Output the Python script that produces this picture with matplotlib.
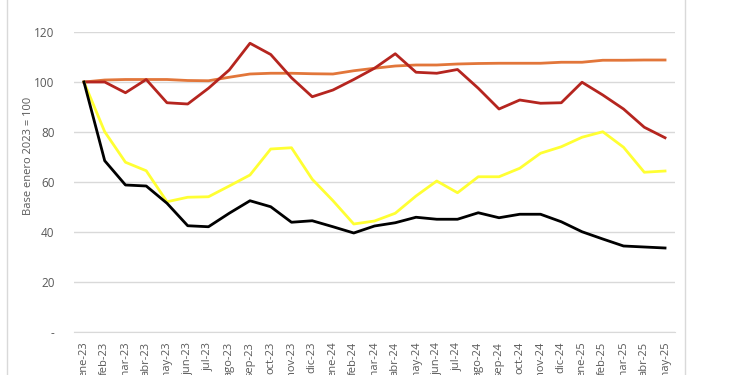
import matplotlib
matplotlib.use("Agg")
import matplotlib.pyplot as plt
from matplotlib.lines import Line2D

months = ["ene-23", "feb-23", "mar-23", "abr-23", "may-23", "jun-23", "jul-23", "ago-23",
          "sep-23", "oct-23", "nov-23", "dic-23", "ene-24", "feb-24", "mar-24", "abr-24",
          "may-24", "jun-24", "jul-24", "ago-24", "sep-24", "oct-24", "nov-24", "dic-24",
          "ene-25", "feb-25", "mar-25", "abr-25", "may-25"]

orange = [100, 100.8, 101, 101, 101, 100.6, 100.5, 101.9, 103.2, 103.5, 103.5, 103.3, 103.2,
          104.5, 105.5, 106.4, 106.8, 106.8, 107.2, 107.4, 107.5, 107.5, 107.5, 107.9,
          107.9, 108.7, 108.7, 108.8, 108.8]
darkred = [100, 100, 95.7, 101, 91.7, 91.2, 97.5, 104.8, 115.5, 111, 101.7, 94.1, 96.8,
           101, 105.5, 111.3, 103.9, 103.5, 105, 97.5, 89.2, 92.8, 91.5, 91.7, 99.9, 94.8,
           89.2, 81.9, 77.7]
yellow = [100, 80.1, 67.9, 64.5, 52.1, 53.9, 54.1, 58.4, 62.8, 73.2, 73.7, 61.1, 52.5,
          43.2, 44.4, 47.5, 54.4, 60.4, 55.7, 62.1, 62.1, 65.5, 71.5, 74.1, 77.9, 80.1,
          73.9, 63.9, 64.4]
black = [100, 68.5, 58.8, 58.4, 51.5, 42.5, 42.1, 47.5, 52.5, 50.1, 43.9, 44.5, 42.1,
         39.6, 42.4, 43.7, 45.9, 45.1, 45.1, 47.7, 45.7, 47.1, 47.1, 44.1, 40.1, 37.2,
         34.4, 34.0, 33.6]

yticks = [0, 20, 40, 60, 80, 100, 120]
ytick_labels = ["-", "20", "40", "60", "80", "100", "120"]

plt.rcParams['font.family'] = ['Open Sans', 'DejaVu Sans']

fig = plt.figure(figsize=(7.5, 3.75), dpi=100)
ax = fig.add_axes([74/750, 1-332/375, 601/750, 300/375])

x = list(range(len(months)))
ax.plot(x, orange, color="#E2763A", lw=2.0)
ax.plot(x, darkred, color="#B5251F", lw=2.0)
ax.plot(x, yellow, color="#FFFF33", lw=2.0)
ax.plot(x, black, color="#000000", lw=2.0)

ax.set_xlim(-0.48, len(months) - 1 + 0.48)
ax.set_ylim(0, 120)
ax.set_yticks(yticks)
ax.set_yticklabels(ytick_labels)
ax.set_xticks(x)
ax.set_xticklabels(months, rotation=90, va="top", ha="center")
ax.grid(axis="y", color="#D9D9D9", lw=1)
ax.set_axisbelow(True)
for s in ["top", "right", "left"]:
    ax.spines[s].set_visible(False)
ax.spines["bottom"].set_color("#D9D9D9")
ax.tick_params(axis="y", length=0, colors="#595959", labelsize=8.5, pad=14)
ax.tick_params(axis="x", length=0, colors="#595959", labelsize=8, pad=7)
ax.set_ylabel("Base enero 2023 = 100", fontsize=8, color="#595959")
ax.yaxis.set_label_coords(-(74 - 34) / 601, (332 - 156) / 300)

fig.add_artist(Line2D([7/750, 7/750], [0, 1], color="#D9D9D9", lw=1, transform=fig.transFigure))
fig.add_artist(Line2D([685/750, 685/750], [0, 1], color="#D9D9D9", lw=1, transform=fig.transFigure))

fig.savefig("out.png", dpi=100)
